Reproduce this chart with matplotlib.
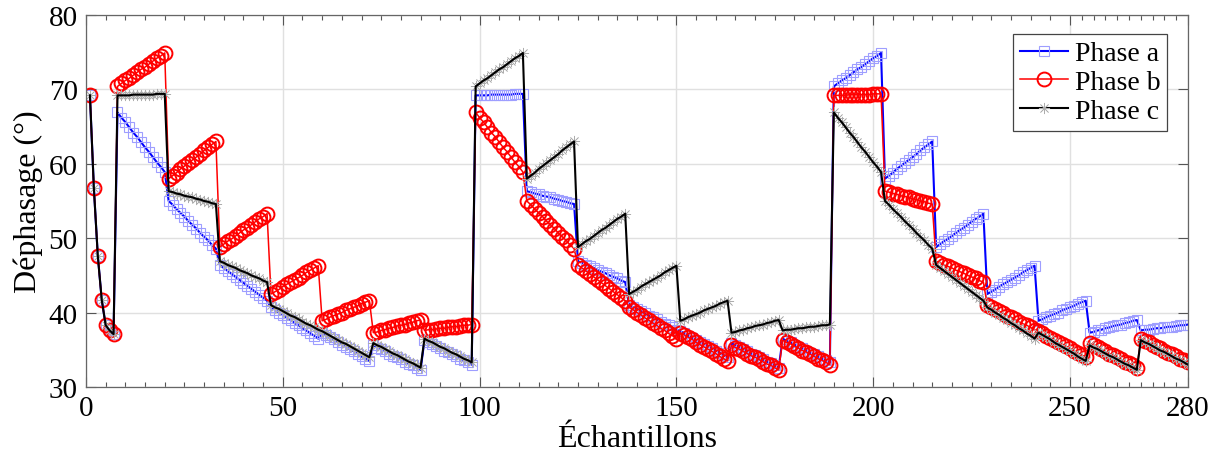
import matplotlib
matplotlib.use("Agg")
import matplotlib.pyplot as plt
import numpy as np

plt.rcParams['font.family'] = ['Liberation Serif', 'DejaVu Serif']

# first 7 samples (identical for the three phases)
startup = [69.2, 56.7, 47.6, 41.7, 38.3, 37.6, 37.1]

# rising saw-tooth (7 steps x 13 samples)
saw_up = [70.4, 70.8, 71.2, 71.5, 71.9, 72.3, 72.7, 73.0, 73.4, 73.8, 74.2, 74.5, 74.9,
          58.0, 58.4, 58.8, 59.3, 59.7, 60.1, 60.5, 60.9, 61.3, 61.8, 62.2, 62.6, 63.0,
          48.8, 49.2, 49.6, 49.9, 50.3, 50.7, 51.1, 51.4, 51.8, 52.2, 52.6, 52.9, 53.3,
          42.5, 42.8, 43.1, 43.5, 43.8, 44.1, 44.4, 44.7, 45.0, 45.4, 45.7, 46.0, 46.3,
          38.9, 39.1, 39.4, 39.6, 39.8, 40.0, 40.3, 40.5, 40.7, 40.9, 41.2, 41.4, 41.6,
          37.3, 37.4, 37.6, 37.7, 37.9, 38.0, 38.2, 38.3, 38.4, 38.6, 38.7, 38.9, 39.0,
          37.6, 37.7, 37.7, 37.8, 37.9, 37.9, 38.0, 38.1, 38.1, 38.2, 38.3, 38.3, 38.4]

# flat first step, then slowly decreasing steps
saw_flat = [69.2, 69.2, 69.2, 69.2, 69.3, 69.3, 69.3, 69.3, 69.3, 69.3, 69.4, 69.4, 69.4,
            56.3, 56.2, 56.0, 55.9, 55.7, 55.6, 55.5, 55.3, 55.2, 55.0, 54.9, 54.7, 54.6,
            46.9, 46.7, 46.4, 46.2, 46.0, 45.7, 45.5, 45.3, 45.0, 44.8, 44.6, 44.3, 44.1,
            41.0, 40.7, 40.5, 40.2, 39.9, 39.6, 39.4, 39.1, 38.8, 38.5, 38.3, 38.0, 37.7,
            37.5, 37.2, 36.9, 36.6, 36.3, 36.0, 35.8, 35.5, 35.2, 34.9, 34.6, 34.3, 34.0,
            35.9, 35.6, 35.4, 35.1, 34.8, 34.5, 34.3, 34.0, 33.7, 33.4, 33.2, 32.9, 32.6,
            36.5, 36.2, 36.0, 35.7, 35.4, 35.2, 34.9, 34.6, 34.4, 34.1, 33.8, 33.6, 33.3]

# decreasing steps
saw_down = [66.9, 66.2, 65.6, 64.9, 64.2, 63.6, 62.9, 62.2, 61.6, 60.9, 60.2, 59.6, 58.9,
            55.0, 54.5, 53.9, 53.4, 52.9, 52.3, 51.8, 51.3, 50.7, 50.2, 49.7, 49.1, 48.6,
            46.4, 46.0, 45.6, 45.2, 44.8, 44.4, 44.0, 43.6, 43.2, 42.8, 42.4, 42.0, 41.6,
            40.7, 40.4, 40.0, 39.7, 39.3, 39.0, 38.6, 38.3, 37.9, 37.6, 37.2, 36.9, 36.5,
            37.3, 37.0, 36.7, 36.4, 36.0, 35.7, 35.4, 35.1, 34.8, 34.5, 34.1, 33.8, 33.5,
            35.6, 35.3, 35.1, 34.8, 34.5, 34.2, 34.0, 33.7, 33.4, 33.1, 32.9, 32.6, 32.3,
            36.3, 36.0, 35.8, 35.5, 35.2, 34.9, 34.7, 34.4, 34.1, 33.8, 33.6, 33.3, 33.0]

phase_a = startup + saw_down + saw_flat + saw_up
phase_b = startup + saw_up + saw_down + saw_flat
phase_c = startup + saw_flat + saw_up + saw_down
x = np.arange(1, len(phase_a) + 1)

xticks = [0, 50, 100, 150, 200, 250, 280]
yticks = [30, 40, 50, 60, 70, 80]

fig = plt.figure(figsize=(12.2, 4.64), dpi=100)
ax = fig.add_axes([0.0705, 0.1638, 0.9033, 0.8017])

ax.plot(x, phase_a, color='blue', lw=1.5, marker='s', ms=6.5, mfc='none',
        mec=(0.62, 0.62, 1.0), mew=0.8, label='Phase a')
ax.plot(x, phase_b, color='red', lw=1.1, marker='o', ms=10, mfc='none',
        mec='red', mew=1.4, label='Phase b')
# markers drawn first so the black line stays on top of them
ax.plot(x, phase_c, ls='none', marker=(8, 2, 0), ms=8,
        mec=(0.68, 0.68, 0.68), mew=0.5)
ax.plot(x, phase_c, color='black', lw=1.5)
ax.plot([], [], color='black', lw=1.5, marker=(8, 2, 0), ms=8,
        mec=(0.68, 0.68, 0.68), mew=0.5, label='Phase c')

ax.set_xlim(0, 280)
ax.set_ylim(30, 80)
ax.set_xticks(xticks)
ax.set_yticks(yticks)
minor = []
for a, b in zip(xticks[:-1], xticks[1:]):
    minor += list(np.linspace(a, b, 11)[1:-1])
ax.set_xticks(minor, minor=True)
ax.tick_params(which='both', direction='in', top=True, right=True,
               labelsize=21, color='#555555', pad=6)
ax.tick_params(which='major', length=7, width=0.8)
ax.tick_params(which='minor', length=3.5, width=0.8)
for s in ax.spines.values():
    s.set_color('#666666')
    s.set_linewidth(0.9)
ax.grid(True, which='major', color='#e0e0e0', lw=1.0)
ax.set_axisbelow(True)

ax.set_xlabel('Échantillons', fontsize=23, labelpad=2)
ax.set_ylabel('Déphasage (°)', fontsize=23, labelpad=4)

leg = ax.legend(loc='upper right', bbox_to_anchor=(0.981, 0.949), borderaxespad=0,
                fontsize=20, fancybox=False, framealpha=1, edgecolor='#444444',
                handlelength=1.7, handletextpad=0.25, labelspacing=0.12,
                borderpad=0.25)
leg.get_frame().set_linewidth(0.9)

fig.savefig('out.png', dpi=100)
